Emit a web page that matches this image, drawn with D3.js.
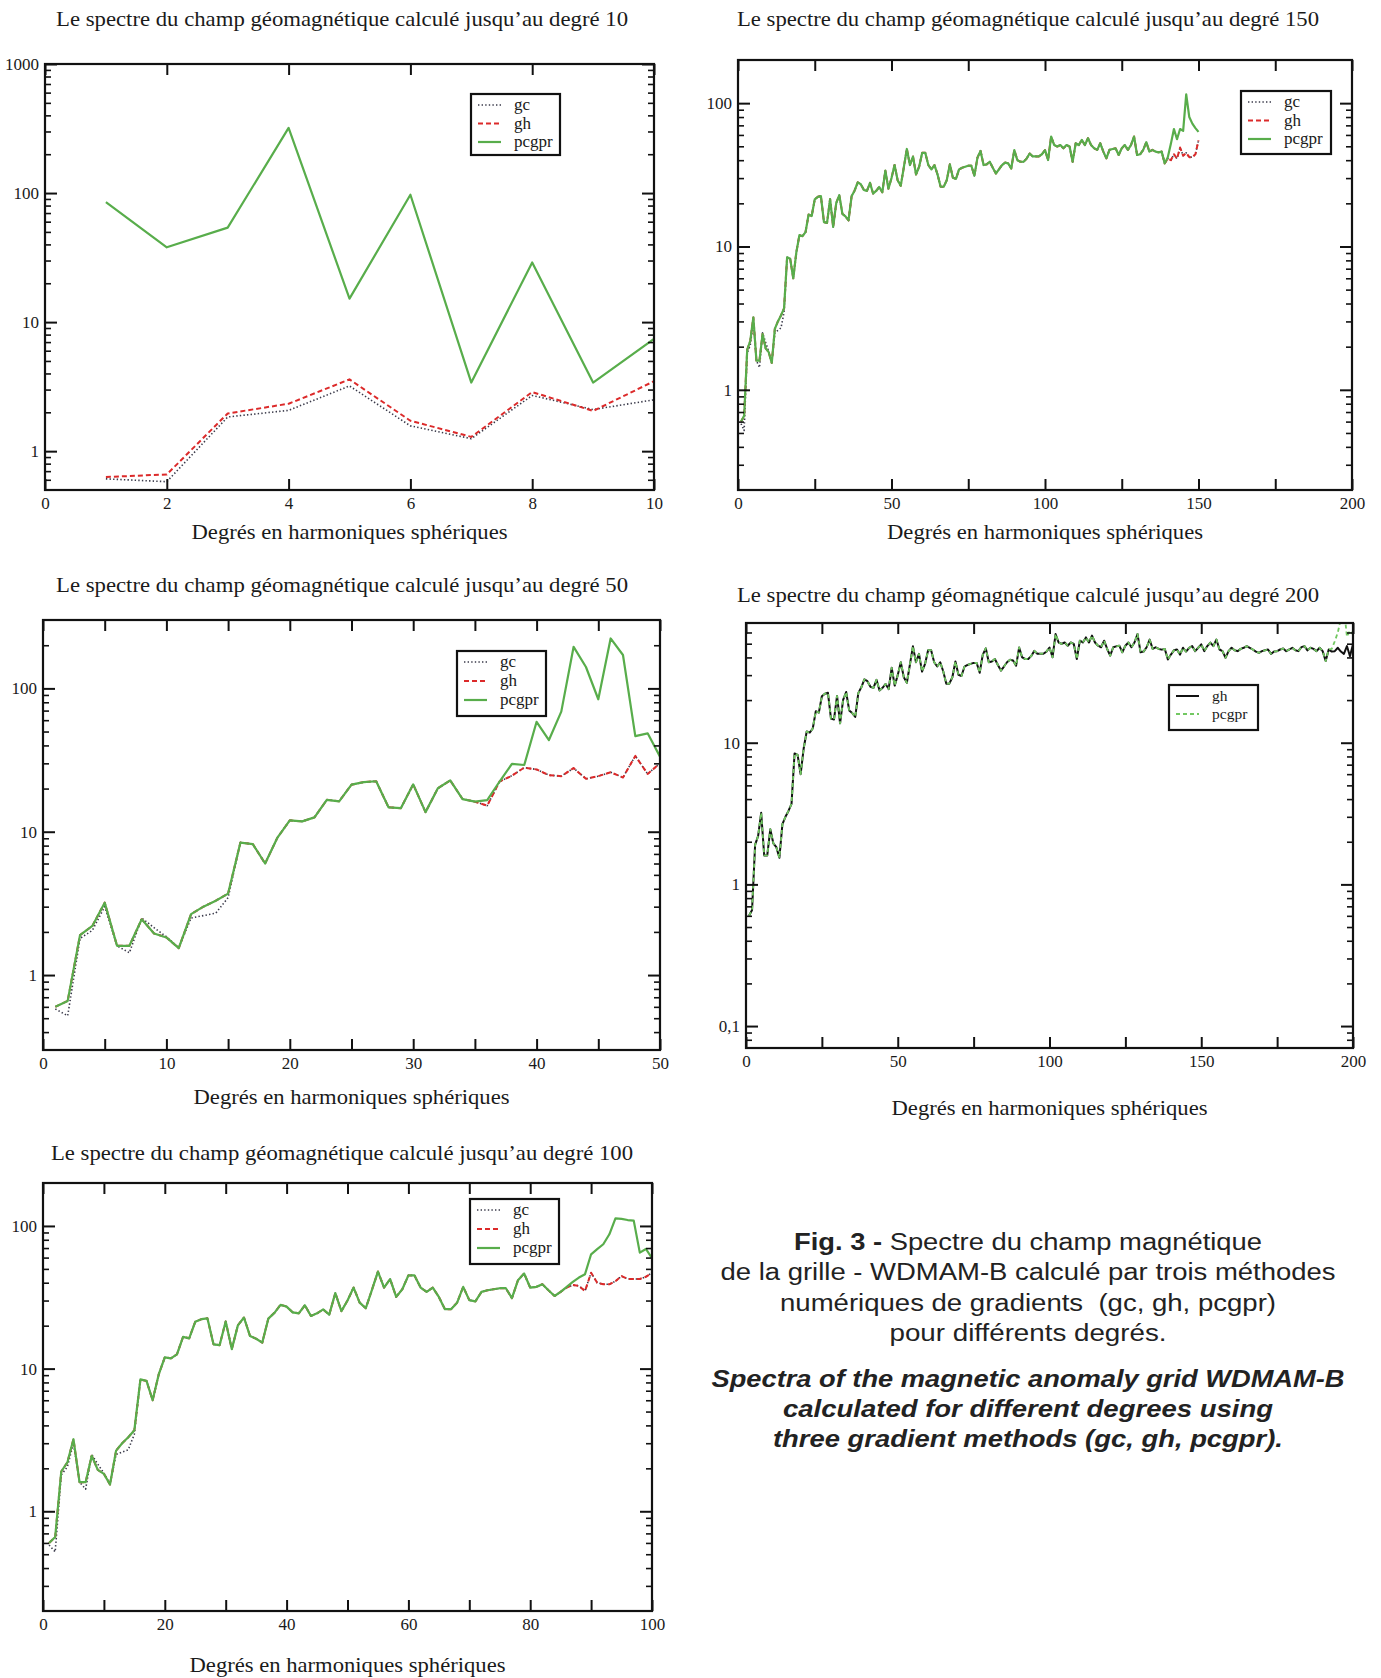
<!DOCTYPE html>
<html>
<head>
<meta charset="utf-8">
<script src="https://cdn.jsdelivr.net/npm/d3@7"></script>
<style>
  body { margin: 0; background: #fff; }
  svg text { font-family: "Liberation Serif", "Times New Roman", serif; fill: #1a1a1a; }
  .legende-fig text { font-family: "Liberation Sans", Arial, sans-serif; fill: #222; white-space: pre; }
</style>
</head>
<body>
<svg id="fig"></svg>
<script>
// Spectre (degrés 1 à 200), méthode gh
const spectre = [
  0.6, 0.66, 1.9, 2.2, 3.2, 1.6, 1.6, 2.45, 1.95, 1.83,
  1.54, 2.66, 3.0, 3.3, 3.7, 8.4, 8.2, 6.0, 9.1, 12,
  11.8, 12.6, 16.7, 16.3, 21.3, 22.2, 22.5, 14.8, 14.6, 21.4,
  13.7, 20.1, 22.8, 16.9, 16.2, 15.2, 22.4, 24.6, 28, 27.2,
  24.8, 24.4, 27.8, 23.4, 24.4, 26, 23.9, 33.8, 25.3, 30,
  37, 29, 26.5, 35.5, 47.9, 37, 42.4, 31.8, 36, 45,
  45, 37, 34.5, 37, 31.8, 26.1, 26.1, 29, 37.4, 30.2,
  29.6, 34.5, 35.4, 36, 36.6, 36.6, 31.2, 41.7, 46.4, 37,
  37.4, 39, 35.4, 32.3, 34.5, 37, 38.5, 38, 35, 47,
  40, 39, 39, 41, 44.5, 42.5, 42.5, 42.5, 44, 47,
  40.1, 58.5, 51, 49.8, 51, 48.4, 51, 49.8, 39, 52.5,
  51, 55.4, 51, 57, 51, 48.4, 47.2, 52.5, 45.9, 41.2,
  47.2, 47.9, 48.4, 43.5, 48.4, 51, 47.2, 51, 58.5, 43.5,
  44, 47.2, 53.4, 45.9, 47.2, 45.9, 45.4, 45.9, 38.7, 41.9,
  44.9, 45.5, 41.9, 46.8, 44, 46.8, 48.1, 44.3, 46.8, 49.5,
  44.3, 48.1, 50.9, 48.1, 53.5, 45.5, 44.3, 39.8, 44.3, 46.8,
  44.9, 44.3, 46, 46.8, 48.1, 46.8, 45.5, 44, 43.1, 44.3,
  44.9, 45.5, 42.4, 44, 44.3, 45.5, 46.2, 44.3, 45.5, 46.8,
  44.9, 44.3, 47.3, 48.1, 44.9, 46.8, 46, 44.3, 46.8, 44.3,
  37.7, 45.5, 44, 44.3, 46.8, 44, 42.4, 48.1, 40.8, 49.5
];

// gc pour les bas degrés (1 à 15), là où il s'écarte de gh
const gcBas = [0.58, 0.52, 1.8, 2.05, 3.0, 1.6, 1.43, 2.5, 2.14, 1.85, 1.55, 2.5, 2.6, 2.7, 3.47];

// calcul jusqu'au degré 10
const gc10 = [0.61, 0.58, 1.84, 2.07, 3.2, 1.57, 1.25, 2.7, 2.1, 2.5];
const gh10 = [0.63, 0.66, 1.96, 2.33, 3.6, 1.72, 1.29, 2.87, 2.05, 3.48];
const pcgpr10 = [85, 38, 54, 320, 15.2, 97, 3.4, 29, 3.4, 7.4];

// fins de série qui divergent
const pcgpr50Fin = [16.6, 22.4, 29.7, 29.2, 58.5, 43.6, 68.8, 195, 141, 84, 223, 171, 46.5, 48.6, 33.4]; // 36 à 50
const pcgpr100Fin = [37.4, 40.5, 43.5, 45.9, 63.3, 68.7, 74.4, 87.4, 113, 112, 110, 109, 65, 69, 59.5]; // 86 à 100
const gh150Fin = [38, 41, 40, 44, 41, 49, 43, 45, 42, 42, 44, 55]; // 139 à 150
const pcgpr150Fin = [38, 42, 52, 66, 56, 66, 64, 115, 80, 72, 67, 63]; // 139 à 150
const pcgpr200Fin = [46, 52, 60, 75, 90, 56, 62, 58]; // 193 à 200

const titreAxe = "Degrés en harmoniques sphériques";
const legende3 = ["gc", "gh", "pcgpr"];
const legende2 = ["gh", "pcgpr"];

const legendeFig = [
  { t: [["Fig. 3 - ", 700], ["Spectre du champ magnétique", 400]], y: 1250, w: 468, it: false },
  { t: [["de la grille - WDMAM-B calculé par trois méthodes", 400]], y: 1280, w: 615, it: false },
  { t: [["numériques de gradients  (gc, gh, pcgpr)", 400]], y: 1311, w: 496, it: false },
  { t: [["pour différents degrés.", 400]], y: 1341, w: 277, it: false },
  { t: [["Spectra of the magnetic anomaly grid WDMAM-B", 700]], y: 1387, w: 633, it: true },
  { t: [["calculated for different degrees using", 700]], y: 1417, w: 490, it: true },
  { t: [["three gradient methods (gc, gh, pcgpr).", 700]], y: 1447, w: 510, it: true }
];

function assemble(n, fin, debutFin, bas) {
  const v = spectre.slice(0, n);
  if (bas) bas.forEach((d, i) => v[i] = d);
  if (fin) fin.forEach((d, i) => v[debutFin - 1 + i] = d);
  return v.map((d, i) => [i + 1, d]);
}
const indexe = arr => arr.map((d, i) => [i + 1, d]);

const styles = {
  gc: { stroke: "#3a3a4a", width: 1.6, dash: "1.4,2.2" },
  gh: { stroke: "#dc2a2a", width: 2, dash: "5,3" },
  pcgpr: { stroke: "#58ad4b", width: 2.2, dash: null },
  gh_noir: { stroke: "#111", width: 2, dash: null },
  pcgpr_tirets: { stroke: "#72c862", width: 1.8, dash: "4,3" }
};

const panneaux = [
  { titre: "Le spectre du champ géomagnétique calculé jusqu’au degré 10", tw: 572, cx: 342, ty: 26, ay: 539,
    box: [45, 64, 654, 490], xMax: 10, xPas: 2, xMin: [], yDom: [0.5, 1000], yMaj: [1, 10, 100, 1000],
    leg: [471, 94, 89, 61], noms: legende3, pas: 18.5, legPolice: 17,
    series: [["gc", indexe(gc10)], ["gh", indexe(gh10)], ["pcgpr", indexe(pcgpr10)]] },
  { titre: "Le spectre du champ géomagnétique calculé jusqu’au degré 150", tw: 582, cx: 1028, ty: 26, ay: 539,
    box: [738, 60, 1352, 490], xMax: 200, xPas: 50, xMin: [25, 75, 125, 175], yDom: [0.2, 200], yMaj: [1, 10, 100],
    leg: [1241, 91, 90, 63], noms: legende3, pas: 18.5, legPolice: 17,
    series: [["gc", assemble(150, gh150Fin, 139, gcBas)], ["gh", assemble(150, gh150Fin, 139)], ["pcgpr", assemble(150, pcgpr150Fin, 139)]] },
  { titre: "Le spectre du champ géomagnétique calculé jusqu’au degré 50", tw: 572, cx: 342, ty: 592, ay: 1104,
    box: [43, 620, 660, 1050], xMax: 50, xPas: 10, xMin: [5, 15, 25, 35, 45], yDom: [0.3, 300], yMaj: [1, 10, 100],
    leg: [457, 651, 89, 65], noms: legende3, pas: 19, legPolice: 17,
    series: [["gc", assemble(50, null, 0, gcBas)], ["gh", assemble(50)], ["pcgpr", assemble(50, pcgpr50Fin, 36)]] },
  { titre: "Le spectre du champ géomagnétique calculé jusqu’au degré 200", tw: 582, cx: 1028, ty: 602, ay: 1115,
    box: [746, 623, 1353, 1048], xMax: 200, xPas: 50, xMin: [25, 75, 125, 175], yDom: [0.07, 70], yMaj: [0.1, 1, 10],
    leg: [1169, 685, 89, 45], noms: legende2, pas: 18, legPolice: 15.5, styleNoms: ["gh_noir", "pcgpr_tirets"],
    series: [["gh_noir", assemble(200)], ["pcgpr_tirets", assemble(200, pcgpr200Fin, 193)]] },
  { titre: "Le spectre du champ géomagnétique calculé jusqu’au degré 100", tw: 582, cx: 342, ty: 1160, ay: 1672,
    box: [43, 1183, 652, 1611], xMax: 100, xPas: 20, xMin: [10, 30, 50, 70, 90], yDom: [0.2, 200], yMaj: [1, 10, 100],
    leg: [470, 1199, 89, 65], noms: legende3, pas: 19, legPolice: 17,
    series: [["gc", assemble(100, null, 0, gcBas)], ["gh", assemble(100)], ["pcgpr", assemble(100, pcgpr100Fin, 86)]] }
];

const svg = d3.select("#fig").attr("width", 1381).attr("height", 1678);
const defs = svg.append("defs");
const fmtY = v => v < 1 ? String(v).replace(".", ",") : String(v);

panneaux.forEach((p, k) => {
  const [x0, y0, x1, y1] = p.box;
  const x = d3.scaleLinear().domain([0, p.xMax]).range([x0, x1]);
  const y = d3.scaleLog().domain(p.yDom).range([y1, y0]);
  const g = svg.append("g");

  // titres
  g.append("text").attr("x", p.cx).attr("y", p.ty).attr("text-anchor", "middle")
    .attr("font-size", 21).attr("textLength", p.tw).attr("lengthAdjust", "spacingAndGlyphs").text(p.titre);
  g.append("text").attr("x", (x0 + x1) / 2).attr("y", p.ay).attr("text-anchor", "middle")
    .attr("font-size", 21).attr("textLength", 316).attr("lengthAdjust", "spacingAndGlyphs").text(titreAxe);

  // courbes, coupées au cadre
  defs.append("clipPath").attr("id", "clip" + k).append("rect")
    .attr("x", x0).attr("y", y0).attr("width", x1 - x0).attr("height", y1 - y0);
  const line = d3.line().x(d => x(d[0])).y(d => y(d[1]));
  const courbes = g.append("g").attr("clip-path", `url(#clip${k})`);
  p.series.forEach(([nom, data]) => {
    const s = styles[nom];
    courbes.append("path").datum(data)
      .attr("fill", "none").attr("stroke", s.stroke).attr("stroke-width", s.width)
      .attr("stroke-dasharray", s.dash).attr("stroke-linejoin", "round")
      .attr("d", line);
  });

  // graduations (vers l'intérieur, sur les quatre côtés)
  const majX = d3.range(0, p.xMax + 1e-9, p.xPas);
  const minY = [];
  for (let e = Math.floor(Math.log10(p.yDom[0])); e <= Math.ceil(Math.log10(p.yDom[1])); e++) {
    for (let m = 2; m <= 9; m++) {
      const v = +(m * Math.pow(10, e)).toPrecision(3);
      if (v > p.yDom[0] * 1.001 && v < p.yDom[1] * 0.999) minY.push(v);
    }
  }
  const pose = (axe, tx, ty, large) => {
    g.append("g").attr("transform", `translate(${tx},${ty})`).call(axe)
      .call(a => a.select(".domain").remove())
      .call(a => a.selectAll("line").attr("stroke", "#111").attr("stroke-width", large ? 2 : 1.6))
      .call(a => a.selectAll("text").attr("font-size", 17).attr("fill", "#1a1a1a")
        .style("font-family", '"Liberation Serif", "Times New Roman", serif'));
  };
  pose(d3.axisBottom(x).tickValues(majX).tickSize(-11).tickPadding(7).tickFormat(d3.format("d")), 0, y1, true);
  pose(d3.axisTop(x).tickValues(majX).tickSize(-11).tickFormat(""), 0, y0, true);
  if (p.xMin.length) {
    pose(d3.axisBottom(x).tickValues(p.xMin).tickSize(-11).tickFormat(""), 0, y1, true);
    pose(d3.axisTop(x).tickValues(p.xMin).tickSize(-11).tickFormat(""), 0, y0, true);
  }
  pose(d3.axisLeft(y).tickValues(p.yMaj).tickSize(-12).tickPadding(6).tickFormat(fmtY), x0, 0, true);
  pose(d3.axisLeft(y).tickValues(minY).tickSize(-6).tickFormat(""), x0, 0, false);
  pose(d3.axisRight(y).tickValues(p.yMaj).tickSize(-12).tickFormat(""), x1, 0, true);
  pose(d3.axisRight(y).tickValues(minY).tickSize(-6).tickFormat(""), x1, 0, false);

  // cadre
  g.append("rect").attr("x", x0).attr("y", y0).attr("width", x1 - x0).attr("height", y1 - y0)
    .attr("fill", "none").attr("stroke", "#111").attr("stroke-width", 2.2);

  // légende
  const [lx, ly, lw, lh] = p.leg;
  const leg = g.append("g");
  leg.append("rect").attr("x", lx).attr("y", ly).attr("width", lw).attr("height", lh)
    .attr("fill", "#fff").attr("stroke", "#111").attr("stroke-width", 2.2);
  p.noms.forEach((nom, i) => {
    const s = styles[p.styleNoms ? p.styleNoms[i] : nom];
    const ry = ly + 11 + i * p.pas;
    leg.append("line").attr("x1", lx + 7).attr("x2", lx + 30).attr("y1", ry).attr("y2", ry)
      .attr("stroke", s.stroke).attr("stroke-width", s.width).attr("stroke-dasharray", s.dash);
    leg.append("text").attr("x", lx + 43).attr("y", ry + 5).attr("font-size", p.legPolice).text(nom);
  });
});

// légende de la figure
const lf = svg.append("g").attr("class", "legende-fig");
legendeFig.forEach(l => {
  const t = lf.append("text").attr("x", 1028).attr("y", l.y).attr("text-anchor", "middle")
    .attr("font-size", 23).attr("font-style", l.it ? "italic" : "normal")
    .attr("textLength", l.w).attr("lengthAdjust", "spacingAndGlyphs");
  l.t.forEach(([s, w]) => t.append("tspan").attr("font-weight", w).text(s));
});
</script>
</body>
</html>
